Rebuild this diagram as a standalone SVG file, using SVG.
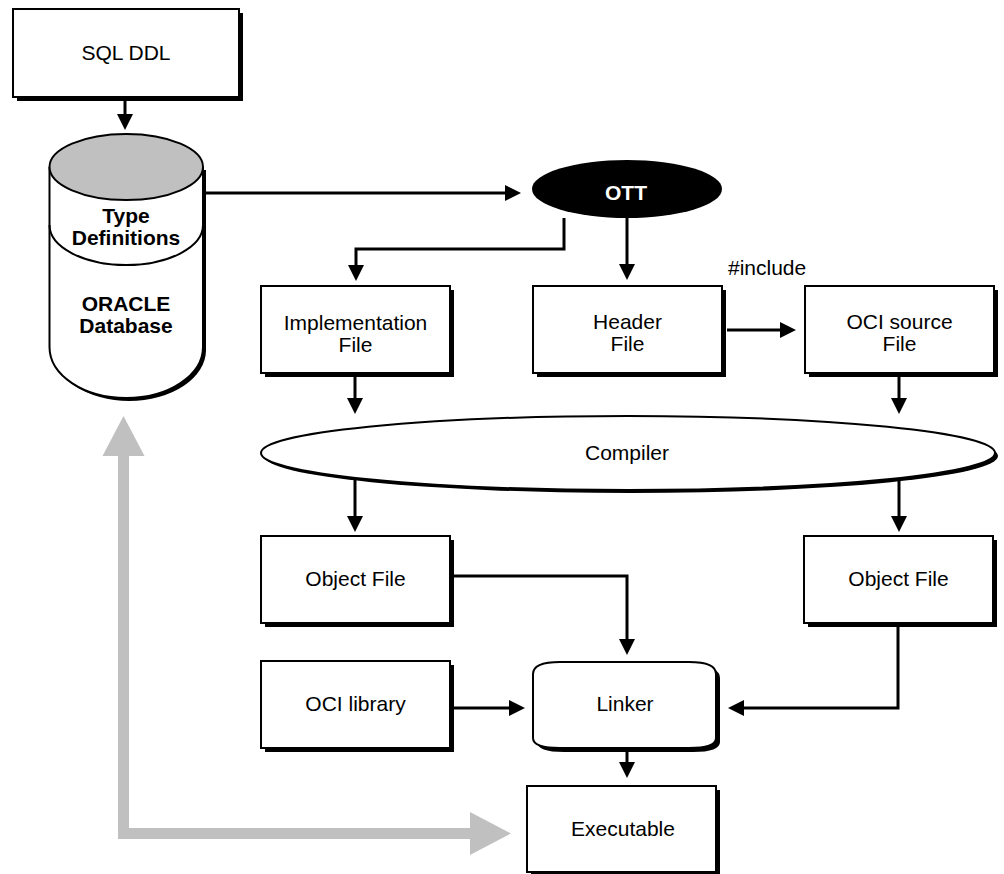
<svg xmlns="http://www.w3.org/2000/svg" width="1004" height="874" viewBox="0 0 1004 874">
<style>
.t{font-family:"Liberation Sans",Arial,Helvetica,sans-serif;font-size:21px;text-anchor:middle;fill:#000}
.b{font-weight:bold}
.w{fill:#fff}
.box{fill:#fff;stroke:#000;stroke-width:2}
.sh{fill:#000}
.ln{fill:none;stroke:#000;stroke-width:3;marker-end:url(#ah)}
.gr{fill:none;stroke:#c0c0c0;stroke-width:11;stroke-linejoin:miter}
.gh{fill:#c0c0c0}
</style>
<defs>
<marker id="ah" viewBox="0 0 16 16" refX="6" refY="8" markerWidth="16" markerHeight="16" markerUnits="userSpaceOnUse" orient="auto">
<path d="M0,0 L16,8 L0,16 Z" fill="#000"/>
</marker>
</defs>
<rect width="1004" height="874" fill="#fff"/>

<g id="connectors">
<path class="ln" d="M125,101 V120"/>
<path class="ln" d="M206,193 H511"/>
<path class="ln" d="M564,218 V249 H356 V271"/>
<path class="ln" d="M627,218 V270"/>
<path class="ln" d="M727,330 H786"/>
<path class="ln" d="M355,377 V404"/>
<path class="ln" d="M899,377 V404"/>
<path class="ln" d="M355,478 V522"/>
<path class="ln" d="M899,478 V522"/>
<path class="ln" d="M453,576 H627 V645"/>
<path class="ln" d="M453,708 H515"/>
<path class="ln" d="M898,627 V708 H738"/>
<path class="ln" d="M627,752 V768"/>
<path class="gr" d="M123.5,455 V833.5 H471"/>
<polygon class="gh" points="123.5,416 102.5,456 144.5,456"/>
<polygon class="gh" points="511,833.5 470,812 470,855"/>
</g>

<g id="sqlddl">
<rect class="sh" x="17" y="13" width="226" height="88"/>
<rect class="box" x="13" y="9" width="226" height="88"/>
<text class="t" x="126" y="60">SQL DDL</text>
</g>

<g id="database">
<path class="sh" d="M52.5,170 V350 A76.75,51 0 0 0 206,350 V170 Z"/>
<path class="box" d="M49.5,167 V347 A76.75,51 0 0 0 203,347 V167"/>
<ellipse cx="126.25" cy="167" rx="76.75" ry="33" fill="#c0c0c0" stroke="#000" stroke-width="2"/>
<path d="M49.5,225 A76.75,40 0 0 0 203,225" fill="none" stroke="#000" stroke-width="2"/>
<text class="t b" x="126" y="223">Type</text>
<text class="t b" x="126" y="245">Definitions</text>
<text class="t b" x="126" y="311">ORACLE</text>
<text class="t b" x="126" y="333">Database</text>
</g>

<g id="ott">
<ellipse cx="627" cy="189" rx="95" ry="29" fill="#000"/>
<text class="t b w" x="626" y="200">OTT</text>
</g>

<g id="implementation">
<rect class="sh" x="265" y="290" width="189" height="87"/>
<rect class="box" x="261" y="286" width="189" height="87"/>
<text class="t" x="355.5" y="330">Implementation</text>
<text class="t" x="355.5" y="352">File</text>
</g>

<g id="header">
<rect class="sh" x="537" y="290" width="189" height="87"/>
<rect class="box" x="533" y="286" width="189" height="87"/>
<text class="t" x="627.5" y="329">Header</text>
<text class="t" x="627.5" y="351">File</text>
</g>

<g id="include-label">
<text class="t" x="728" y="275" style="text-anchor:start">#include</text>
</g>

<g id="ocisource">
<rect class="sh" x="809" y="290" width="189" height="87"/>
<rect class="box" x="805" y="286" width="189" height="87"/>
<text class="t" x="899.5" y="329">OCI source</text>
<text class="t" x="899.5" y="351">File</text>
</g>

<g id="compiler">
<ellipse cx="631" cy="456" rx="367" ry="37" fill="#000"/>
<ellipse cx="628" cy="453" rx="367" ry="37" fill="#fff" stroke="#000" stroke-width="2"/>
<text class="t" x="627" y="460">Compiler</text>
</g>

<g id="objectfile1">
<rect class="sh" x="265" y="540" width="189" height="87"/>
<rect class="box" x="261" y="536" width="189" height="87"/>
<text class="t" x="355.5" y="586">Object File</text>
</g>

<g id="objectfile2">
<rect class="sh" x="808" y="540" width="189" height="87"/>
<rect class="box" x="804" y="536" width="189" height="87"/>
<text class="t" x="898.5" y="586">Object File</text>
</g>

<g id="ocilibrary">
<rect class="sh" x="265" y="665" width="189" height="87"/>
<rect class="box" x="261" y="661" width="189" height="87"/>
<text class="t" x="355.5" y="711">OCI library</text>
</g>

<g id="linker">
<path class="sh" d="M537,678 Q537,666 564,666 H693 Q720,666 720,678 V742 Q720,752 693,752 H564 Q537,752 537,742 Z"/>
<path class="box" d="M533,674 Q533,662 560,662 H689 Q716,662 716,674 V738 Q716,748 689,748 H560 Q533,748 533,738 Z"/>
<text class="t" x="625" y="711">Linker</text>
</g>

<g id="executable">
<rect class="sh" x="531" y="790" width="189" height="86"/>
<rect class="box" x="527" y="786" width="189" height="86"/>
<text class="t" x="623" y="836">Executable</text>
</g>
</svg>
